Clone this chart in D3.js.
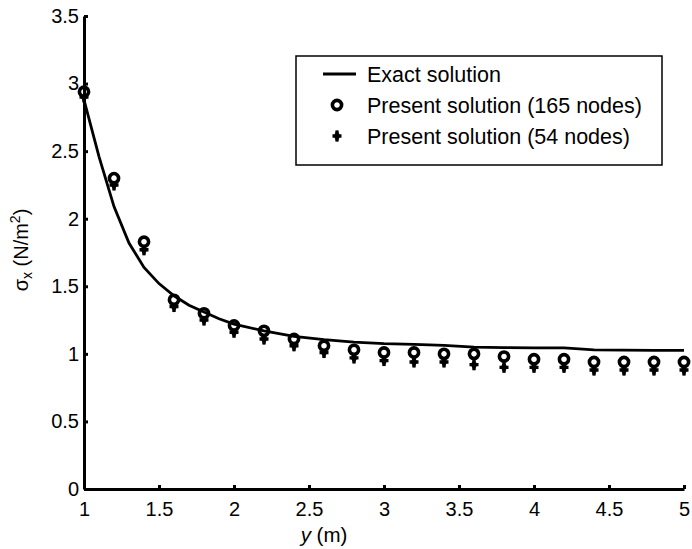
<!DOCTYPE html>
<html>
<head>
<meta charset="utf-8">
<script src="https://cdn.jsdelivr.net/npm/d3@7"></script>
<style>
  body { margin: 0; background: #fff; }
  text { font-family: "Liberation Sans", Arial, sans-serif; fill: #000; }
  .axis path, .axis line { stroke: #000; stroke-width: 3; }
  .axis text { font-size: 20px; }
</style>
</head>
<body>
<div id="chart"></div>
<script>
/*global d3*/
(function () {
    "use strict";

    // node positions along y (m)
    var nodesY = [1, 1.2, 1.4, 1.6, 1.8, 2, 2.2, 2.4, 2.6, 2.8, 3, 3.2, 3.4, 3.6, 3.8, 4, 4.2, 4.4, 4.6, 4.8, 5];
    var sigma165 = [2.94, 2.30, 1.83, 1.40, 1.30, 1.21, 1.17, 1.11, 1.06, 1.03, 1.01, 1.01, 1.00, 1.00, 0.98, 0.96, 0.96, 0.94, 0.94, 0.94, 0.94];
    var sigma54 = [2.90, 2.25, 1.77, 1.35, 1.25, 1.16, 1.11, 1.06, 1.01, 0.97, 0.95, 0.94, 0.94, 0.92, 0.90, 0.90, 0.90, 0.88, 0.88, 0.88, 0.88];

    // exact solution curve
    var exactY = [1, 1.1, 1.2, 1.3, 1.4, 1.5, 1.6, 1.7, 1.8, 1.9, 2, 2.2, 2.4, 2.6, 2.8, 3, 3.2, 3.4, 3.6, 3.8, 4, 4.2, 4.4, 4.6, 4.8, 5];
    var exactSigma = [2.88, 2.46, 2.09, 1.82, 1.64, 1.52, 1.43, 1.36, 1.31, 1.26, 1.22, 1.17, 1.13, 1.105, 1.087, 1.075, 1.07, 1.063, 1.05, 1.046, 1.045, 1.045, 1.03, 1.027, 1.026, 1.026];

    var xTicks = [1, 1.5, 2, 2.5, 3, 3.5, 4, 4.5, 5];
    var yTicks = [0, 0.5, 1, 1.5, 2, 2.5, 3, 3.5];
    var legendLabels = ["Exact solution", "Present solution (165 nodes)", "Present solution (54 nodes)"];

    var W = 692, H = 549,
        margin = {top: 16, right: 8, bottom: 60, left: 84},
        width = W - margin.left - margin.right,
        height = H - margin.top - margin.bottom;

    var x = d3.scaleLinear().domain([1, 5]).range([0, width]);
    var y = d3.scaleLinear().domain([0, 3.5]).range([height, 0]);

    var svg = d3.select("#chart").append("svg")
        .attr("width", W)
        .attr("height", H);
    var g = svg.append("g")
        .attr("transform", "translate(" + margin.left + "," + margin.top + ")");

    var pts165 = nodesY.map(function (v, i) { return [v, sigma165[i]]; });
    var pts54 = nodesY.map(function (v, i) { return [v, sigma54[i]]; });
    var exact = exactY.map(function (v, i) { return [v, exactSigma[i]]; });

    function drawPlus(sel) {
        sel.append("path")
            .attr("d", "M0,-5.5L0,5.5M-4.5,0L4.5,0")
            .attr("stroke", "#000")
            .attr("stroke-width", 3.4)
            .attr("fill", "none");
        sel.append("path")
            .attr("d", d3.symbol().type(d3.symbolDiamond).size(40))
            .attr("fill", "#000");
    }
    function drawCircle(sel) {
        sel.append("circle")
            .attr("r", 4.6)
            .attr("fill", "#fff")
            .attr("stroke", "#000")
            .attr("stroke-width", 3.6);
    }

    // 54 nodes markers
    g.append("g").selectAll("g")
        .data(pts54)
        .enter().append("g")
        .attr("transform", function (d) { return "translate(" + x(d[0]) + "," + y(d[1]) + ")"; })
        .call(drawPlus);

    // 165 nodes markers
    g.append("g").selectAll("g")
        .data(pts165)
        .enter().append("g")
        .attr("transform", function (d) { return "translate(" + x(d[0]) + "," + y(d[1]) + ")"; })
        .call(drawCircle);

    // exact solution
    g.append("path")
        .datum(exact)
        .attr("fill", "none")
        .attr("stroke", "#000")
        .attr("stroke-width", 2.8)
        .attr("d", d3.line().x(function (d) { return x(d[0]); }).y(function (d) { return y(d[1]); }));

    // axes, ticks pointing inward
    g.append("g")
        .attr("class", "axis")
        .attr("transform", "translate(0," + height + ")")
        .call(d3.axisBottom(x).tickValues(xTicks).tickSize(-4).tickPadding(10).tickSizeOuter(0).tickFormat(d3.format("")))
        .call(function (a) { a.selectAll("text").attr("dy", "0.85em"); });
    g.append("g")
        .attr("class", "axis")
        .call(d3.axisLeft(y).tickValues(yTicks).tickSize(-4).tickPadding(5).tickSizeOuter(0).tickFormat(d3.format("")));

    // axis titles
    var xl = svg.append("text")
        .attr("x", margin.left + x(2.6))
        .attr("y", 542)
        .attr("text-anchor", "middle")
        .style("font-size", "20.5px");
    xl.append("tspan").style("font-style", "italic").text("y");
    xl.append("tspan").text(" (m)");

    var yl = svg.append("text")
        .attr("transform", "translate(28," + 250 + ") rotate(-90)")
        .attr("text-anchor", "middle")
        .style("font-size", "20px");
    yl.append("tspan").text("σ");
    yl.append("tspan").attr("dy", 4).style("font-size", "14px").text("x");
    yl.append("tspan").attr("dy", -4).text(" (N/m");
    yl.append("tspan").attr("dy", -8).style("font-size", "14px").text("2");
    yl.append("tspan").attr("dy", 8).text(")");

    // legend
    var lg = svg.append("g").attr("transform", "translate(296,56)");
    lg.append("rect")
        .attr("width", 366).attr("height", 109)
        .attr("fill", "#fff").attr("stroke", "#000").attr("stroke-width", 1.5);
    var rowY = [18, 49, 80];
    lg.append("line")
        .attr("x1", 27).attr("x2", 60).attr("y1", rowY[0]).attr("y2", rowY[0])
        .attr("stroke", "#000").attr("stroke-width", 2.8);
    lg.append("g").attr("transform", "translate(41," + rowY[1] + ")").call(drawCircle);
    lg.append("g").attr("transform", "translate(41," + rowY[2] + ")").call(drawPlus);
    lg.selectAll(".lt")
        .data(legendLabels)
        .enter().append("text")
        .attr("class", "lt")
        .attr("x", 71)
        .attr("y", function (d, i) { return rowY[i]; })
        .attr("dy", "0.36em")
        .style("font-size", "21.5px")
        .text(function (d) { return d; });
}());
</script>
</body>
</html>
